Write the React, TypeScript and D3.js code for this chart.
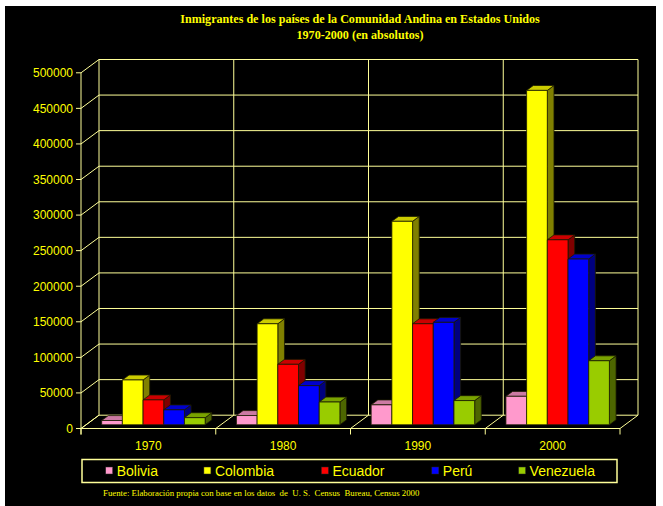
import React from "react";
import * as d3 from "d3";

const categories = ["1970", "1980", "1990", "2000"];
const seriesNames = ["Bolivia", "Colombia", "Ecuador", "Perú", "Venezuela"];
const bolivia = [6000, 13000, 28000, 40000];
const colombia = [63000, 142000, 286000, 470000];
const ecuador = [35000, 85000, 142000, 260000];
const peru = [21000, 55000, 144000, 233000];
const venezuela = [10000, 32000, 34000, 90000];
const yTicks = [0, 50000, 100000, 150000, 200000, 250000, 300000, 350000, 400000, 450000, 500000];
const titleLines = ["Inmigrantes de los países de la Comunidad Andina en Estados Unidos", "1970-2000 (en absolutos)"];
const footnote = "Fuente: Elaboración propia con base en los datos  de  U. S.  Census  Bureau, Census 2000";

const seriesValues = [bolivia, colombia, ecuador, peru, venezuela];
const faceColors = [
  { front: "#FF99CC", top: "#CC7AA3", side: "#805066" },
  { front: "#FFFF00", top: "#CCCC00", side: "#808000" },
  { front: "#FF0000", top: "#CC0000", side: "#800000" },
  { front: "#0000FF", top: "#0000CC", side: "#000080" },
  { front: "#99CC00", top: "#7AA300", side: "#4D6600" },
];

const W = 663, H = 506;
const X0 = 81, X1 = 620, Y0 = 428.5, YT = 72.8;
const DX = 18, DY = 13.3;
const F1 = 0.28, F2 = 0.65;
const GRID = "#FFFF99";
const YEL = "#FFFF00";
const legendX = [105.7, 203.9, 321.4, 431.8, 518.6];

export default function App() {
  const x = d3.scaleBand<string>().domain(categories).range([X0, X1]).padding(0);
  const inner = d3.scaleBand<string>().domain(seriesNames).range([0, x.bandwidth()]).paddingInner(0).paddingOuter(0.755);
  const y = d3.scaleLinear().domain([0, 500000]).range([Y0, YT]);
  const bw = inner.bandwidth();
  const boundaries = [...categories.map((c) => x(c) as number), X1];

  const bars: React.ReactNode[] = [];
  categories.forEach((c, ci) => {
    seriesNames.forEach((s, si) => {
      const v = seriesValues[si][ci];
      const x1 = (x(c) as number) + (inner(s) as number) + F1 * DX;
      const x2 = x1 + bw;
      const yb = y(0) - F1 * DY;
      const yt = y(v) - F1 * DY;
      const ddx = (F2 - F1) * DX, ddy = (F2 - F1) * DY;
      const col = faceColors[si];
      const pts = (a: number[][]) => a.map((p) => p.join(",")).join(" ");
      bars.push(
        <g key={c + s} stroke="#1a1a00" strokeWidth={0.8} strokeLinejoin="round">
          <polygon points={pts([[x2, yt], [x2 + ddx, yt - ddy], [x2 + ddx, yb - ddy], [x2, yb]])} fill={col.side} />
          <polygon points={pts([[x1, yt], [x2, yt], [x2 + ddx, yt - ddy], [x1 + ddx, yt - ddy]])} fill={col.top} />
          <rect x={x1} y={yt} width={bw} height={yb - yt} fill={col.front} />
        </g>
      );
    });
  });

  return (
    <svg width={W} height={H} style={{ position: "absolute", left: 0, top: 0 }}>
      <rect x={0} y={0} width={W} height={H} fill="#fff" />
      <rect x={5} y={6} width={651} height={500} fill="#000" />
      {/* title */}
      {titleLines.map((t, i) => (
        <text key={t} x={360} y={22.5 + i * 16} textAnchor="middle" fill={YEL}
          style={{ fontFamily: "'Liberation Serif', 'Times New Roman', serif", fontWeight: "bold", fontSize: 12.1 }}>{t}</text>
      ))}
      {/* grid */}
      <g stroke={GRID} strokeWidth={1} fill="none">
        {yTicks.map((t) => (
          <g key={t}>
            <line x1={X0 + DX} x2={X1 + DX} y1={y(t) - DY} y2={y(t) - DY} />
            <line x1={X0} x2={X0 + DX} y1={y(t)} y2={y(t) - DY} />
            <line x1={X0 - 5} x2={X0} y1={y(t)} y2={y(t)} />
          </g>
        ))}
        {boundaries.map((b, i) => (
          <g key={i}>
            <line x1={b + DX} x2={b + DX} y1={y(0) - DY} y2={y(500000) - DY} />
            <line x1={b} x2={b + DX} y1={y(0)} y2={y(0) - DY} />
            <line x1={b} x2={b} y1={y(0)} y2={y(0) + 6} />
          </g>
        ))}
        <line x1={X0} x2={X0} y1={y(500000)} y2={y(0) + 6} />
        <line x1={X0} x2={X1} y1={y(0)} y2={y(0)} />
      </g>
      {bars}
      {/* axis labels */}
      <g fill={YEL} style={{ fontFamily: "'Liberation Sans', Arial, sans-serif", fontSize: 12 }}>
        {yTicks.map((t) => (
          <text key={t} x={X0 - 8} y={y(t) + 4.3} textAnchor="end">{t}</text>
        ))}
        {categories.map((c) => (
          <text key={c} x={(x(c) as number) + x.bandwidth() / 2} y={450} textAnchor="middle">{c}</text>
        ))}
      </g>
      {/* legend */}
      <rect x={82} y={459.5} width={535} height={23} fill="none" stroke={GRID} strokeWidth={1.5} />
      {seriesNames.map((s, i) => (
        <g key={s}>
          <rect x={legendX[i]} y={467} width={7} height={7} fill={faceColors[i].front} stroke="#222" strokeWidth={0.5} />
          <text x={legendX[i] + 11} y={475.5} fill={YEL}
            style={{ fontFamily: "'Liberation Sans', Arial, sans-serif", fontSize: 14 }}>{s}</text>
        </g>
      ))}
      <text x={103} y={495.5} fill={YEL}
        style={{ fontFamily: "'Liberation Serif', 'Times New Roman', serif", fontSize: 8.8, whiteSpace: "pre" }}>{footnote}</text>
    </svg>
  );
}
